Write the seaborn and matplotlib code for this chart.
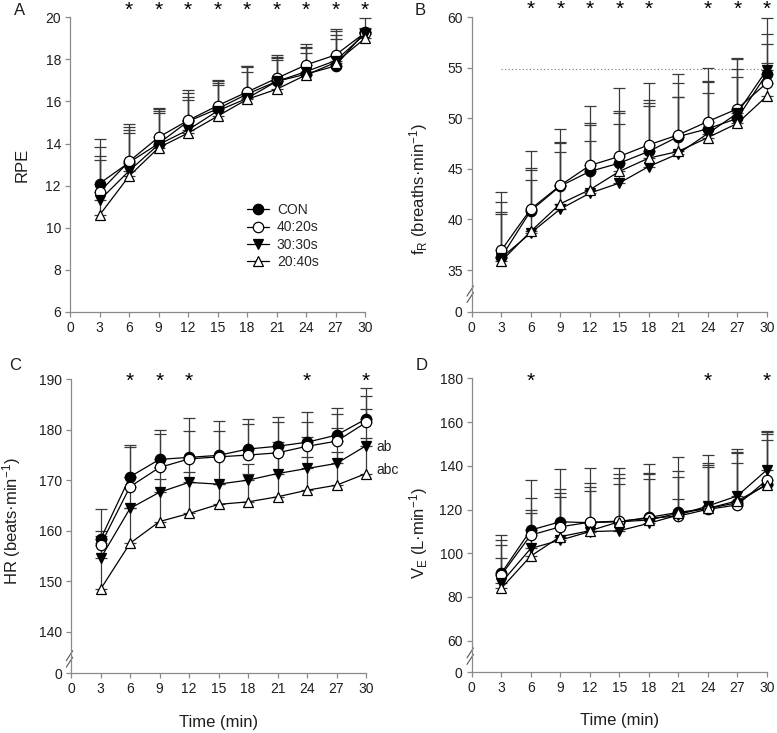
import numpy as np
import pandas as pd
import matplotlib
matplotlib.use('Agg')
import matplotlib.pyplot as plt
import matplotlib.transforms as mtransforms
import seaborn as sns

# time points (min) and conditions
times = [3, 6, 9, 12, 15, 18, 21, 24, 27, 30]
conditions = ['CON', '40:20s', '30:30s', '20:40s']

# A: RPE (mean, upward SD)
rpe_mean = {
    'CON':    [12.1, 13.1, 14.0, 15.05, 15.65, 16.35, 16.95, 17.3, 17.69, 19.32],
    '40:20s': [11.7, 13.15, 14.3, 15.1, 15.8, 16.45, 17.1, 17.74, 18.21, 19.27],
    '30:30s': [11.3, 12.7, 13.95, 14.65, 15.55, 16.15, 16.95, 17.42, 17.94, 19.2],
    '20:40s': [10.6, 12.45, 13.8, 14.5, 15.3, 16.1, 16.58, 17.26, 17.85, 19.0],
}
rpe_sd = {
    'CON':    [2.1, 1.82, 1.71, 1.5, 1.38, 1.35, 1.25, 1.42, 1.76, 0.63],
    '40:20s': [2.15, 1.66, 1.33, 1.29, 1.15, 1.23, 1.03, 0.87, 1.16, 0.2],
    '30:30s': [2.1, 1.95, 1.6, 1.54, 1.32, 1.5, 1.1, 1.11, 1.22, 0.25],
    '20:40s': [2.6, 2.05, 1.64, 1.58, 1.5, 1.32, 1.39, 1.03, 1.11, 0.3],
}

# B: respiratory frequency
fr_mean = {
    'CON':    [36.25, 40.86, 43.3, 44.75, 45.57, 46.73, 48.2, 48.97, 50.0, 54.4],
    '40:20s': [36.94, 41.03, 43.37, 45.34, 46.23, 47.38, 48.37, 49.69, 50.94, 53.5],
    '30:30s': [36.2, 38.66, 41.03, 42.6, 43.6, 45.24, 46.5, 48.5, 50.5, 54.8],
    '20:40s': [35.86, 38.82, 41.55, 42.94, 44.75, 46.07, 46.73, 48.1, 49.5, 52.2],
}
fr_sd = {
    'CON':    [6.46, 5.87, 5.67, 6.49, 7.41, 6.75, 6.17, 6.06, 6.01, 5.5],
    '40:20s': [4.75, 4.05, 4.31, 4.19, 4.51, 4.45, 5.11, 4.02, 4.91, 4.82],
    '30:30s': [4.56, 6.19, 6.52, 6.73, 6.98, 6.26, 5.66, 5.14, 4.36, 2.53],
    '20:40s': [4.71, 5.04, 5.08, 4.84, 4.71, 5.17, 5.37, 4.39, 4.64, 3.3],
}
fr_reference = 54.86

# C: heart rate
hr_mean = {
    'CON':    [158.3, 170.67, 174.1, 174.5, 174.9, 176.15, 176.7, 177.5, 178.9, 182.1],
    '40:20s': [157.15, 168.7, 172.5, 174.2, 174.6, 174.96, 175.4, 176.7, 177.7, 181.4],
    '30:30s': [154.5, 164.4, 167.6, 169.55, 169.2, 170.0, 171.3, 172.3, 173.3, 176.8],
    '20:40s': [148.4, 157.5, 161.8, 163.4, 165.2, 165.7, 166.7, 168.0, 169.0, 171.3],
}
hr_sd = {
    'CON':    [6.0, 6.23, 5.8, 7.7, 6.85, 5.85, 5.8, 6.0, 5.3, 6.1],
    '40:20s': [2.75, 7.9, 6.7, 5.5, 5.2, 6.14, 6.0, 4.7, 5.3, 5.2],
    '30:30s': [4.5, 6.2, 4.7, 4.75, 5.4, 3.2, 6.2, 6.3, 7.1, 7.3],
    '20:40s': [9.1, 6.9, 8.5, 8.3, 4.0, 5.6, 8.9, 6.6, 6.5, 7.1],
}

# D: minute ventilation
ve_mean = {
    'CON':    [90.8, 110.6, 114.4, 114.0, 114.4, 116.4, 118.7, 120.5, 123.1, 131.7],
    '40:20s': [90.0, 108.3, 112.1, 114.2, 114.7, 116.0, 117.0, 120.1, 122.1, 133.5],
    '30:30s': [86.5, 102.2, 106.0, 109.9, 110.3, 113.7, 117.5, 121.6, 126.2, 138.1],
    '20:40s': [83.9, 98.7, 107.6, 110.3, 114.4, 115.2, 118.3, 120.5, 124.0, 131.2],
}
ve_sd = {
    'CON':    [17.7, 22.9, 24.0, 24.8, 24.7, 24.3, 25.2, 24.4, 24.7, 24.4],
    '40:20s': [16.0, 17.1, 17.1, 18.0, 21.4, 20.5, 20.8, 21.0, 24.4, 22.1],
    '30:30s': [17.1, 17.6, 21.7, 20.5, 24.3, 22.5, 17.5, 18.8, 19.8, 16.3],
    '20:40s': [13.8, 19.8, 18.3, 18.3, 17.1, 18.6, 6.7, 19.1, 17.1, 20.6],
}

# significance markers
rpe_stars = [6, 9, 12, 15, 18, 21, 24, 27, 30]
fr_stars = [6, 9, 12, 15, 18, 24, 27, 30]
hr_stars = [6, 9, 12, 24, 30]
ve_stars = [6, 24, 30]

marker_styles = {
    'CON':    dict(marker='o', markerfacecolor='black'),
    '40:20s': dict(marker='o', markerfacecolor='white'),
    '30:30s': dict(marker='v', markerfacecolor='black'),
    '20:40s': dict(marker='^', markerfacecolor='white'),
}

sns.set_style('ticks')
plt.rcParams['font.family'] = ['Liberation Sans', 'DejaVu Sans']
plt.rcParams['mathtext.fontset'] = 'custom'
plt.rcParams['mathtext.rm'] = 'Liberation Sans'
plt.rcParams['mathtext.it'] = 'Liberation Sans:italic'

AXIS_GRAY = '#8a8a8a'
TEXT = '#1e1e1e'


def draw_panel(ax, means, sds, ybottom, yticks, yticklabels, stars, star_y):
    for cond in conditions:
        ax.errorbar(times, means[cond], yerr=[np.zeros(len(times)), sds[cond]],
                    fmt='none', ecolor='#3a3a3a', elinewidth=0.9, capsize=4.5,
                    capthick=0.9, zorder=1, clip_on=False)
    for cond in conditions:
        df = pd.DataFrame({'time': times, 'value': means[cond]})
        sns.lineplot(data=df, x='time', y='value', ax=ax, color='black',
                     linewidth=0.9, errorbar=None, label=cond, zorder=3,
                     clip_on=False, markersize=7.5, markeredgecolor='black',
                     markeredgewidth=0.9, **marker_styles[cond])
    ax.set_xlim(0, 30)
    ax.set_xticks(range(0, 31, 3))
    ax.set_ylim(ybottom, yticks[-1])
    ax.set_yticks(yticks)
    ax.set_yticklabels(yticklabels)
    for s in ['top', 'right']:
        ax.spines[s].set_visible(False)
    for s in ['left', 'bottom']:
        ax.spines[s].set_color(AXIS_GRAY)
        ax.spines[s].set_linewidth(0.9)
    ax.tick_params(direction='out', length=3.5, width=0.9, color=AXIS_GRAY,
                   labelsize=10, labelcolor=TEXT, pad=3)
    ax.set_xlabel('')
    ax.set_ylabel('')
    trans = mtransforms.blended_transform_factory(ax.transData, ax.transAxes)
    for t in stars:
        ax.text(t, star_y, '*', transform=trans, ha='center', va='baseline',
                fontsize=15, color='black')
    if ax.get_legend() is not None:
        ax.get_legend().remove()


def break_marks(ax, yc):
    for off in (-0.011, 0.011):
        ax.plot([-0.016, 0.006], [yc + off - 0.017, yc + off + 0.017],
                transform=ax.transAxes, color='#555555', lw=0.8, clip_on=False)


fig = plt.figure(figsize=(7.77, 7.33), dpi=100)
axA = fig.add_axes([0.0901, 0.5744, 0.3797, 0.402])
axB = fig.add_axes([0.6071, 0.5744, 0.3797, 0.402])
axC = fig.add_axes([0.0914, 0.0814, 0.3797, 0.4015])
axD = fig.add_axes([0.6071, 0.0828, 0.3797, 0.401])

# A
draw_panel(axA, rpe_mean, rpe_sd, 6, list(range(6, 21, 2)),
           [str(v) for v in range(6, 21, 2)], rpe_stars, 1.005)
axA.set_ylabel('RPE', fontsize=12, color=TEXT)
axA.yaxis.set_label_coords(-0.136, 0.5)
handles, labels = axA.get_legend_handles_labels()
axA.legend(handles[:4], labels[:4], loc='upper left', bbox_to_anchor=(0.6, 0.37),
           frameon=False, fontsize=10, handlelength=1.6, handletextpad=0.55,
           labelspacing=0.25, borderaxespad=0, borderpad=0)

# B (broken axis: 0 then 35-60)
fr_ticks = [30.85, 35, 40, 45, 50, 55, 60]
draw_panel(axB, fr_mean, fr_sd, 30.85, fr_ticks,
           ['0', '35', '40', '45', '50', '55', '60'], fr_stars, 1.01)
axB.hlines(fr_reference, 3, 30, colors='#777777', linestyles=(0, (1, 2.2)), lw=0.8, zorder=0)
axB.set_ylabel(r'f$_{\mathrm{R}}$ (breaths·min$^{\mathrm{-1}}$)', fontsize=12, color=TEXT)
axB.yaxis.set_label_coords(-0.14, 0.416)
break_marks(axB, 0.06)

# C (broken axis: 0 then 140-190)
hr_ticks = [131.77, 140, 150, 160, 170, 180, 190]
draw_panel(axC, hr_mean, hr_sd, 131.77, hr_ticks,
           ['0', '140', '150', '160', '170', '180', '190'], hr_stars, 0.9725)
axC.set_ylabel(r'HR (beats·min$^{\mathrm{-1}}$)', fontsize=12, color=TEXT)
axC.yaxis.set_label_coords(-0.163, 0.518)
axC.set_xlabel('Time (min)', fontsize=12, color=TEXT)
axC.xaxis.set_label_coords(0.5, -0.14)
axC.text(31.0, 176.6, 'ab', ha='left', va='center', fontsize=10, color=TEXT, clip_on=False)
axC.text(31.0, 172.0, 'abc', ha='left', va='center', fontsize=10, color=TEXT, clip_on=False)
break_marks(axC, 0.049)

# D (broken axis: 0 then 60-180)
ve_ticks = [45.55, 60, 80, 100, 120, 140, 160, 180]
draw_panel(axD, ve_mean, ve_sd, 45.55, ve_ticks,
           ['0', '60', '80', '100', '120', '140', '160', '180'], ve_stars, 0.971)
axD.set_ylabel(r'V$_{\mathrm{E}}$ (L·min$^{\mathrm{-1}}$)', fontsize=12, color=TEXT)
axD.yaxis.set_label_coords(-0.14, 0.473)
axD.set_xlabel('Time (min)', fontsize=12, color=TEXT)
axD.xaxis.set_label_coords(0.5, -0.14)
break_marks(axD, 0.055)

# panel letters
for letter, x, y in [('A', 0.0257, 0.985), ('B', 0.5405, 0.985),
                     ('C', 0.0193, 0.502), ('D', 0.5427, 0.502)]:
    fig.text(x, y, letter, ha='center', va='center', fontsize=12, color=TEXT)

fig.savefig('out.png', dpi=100)
